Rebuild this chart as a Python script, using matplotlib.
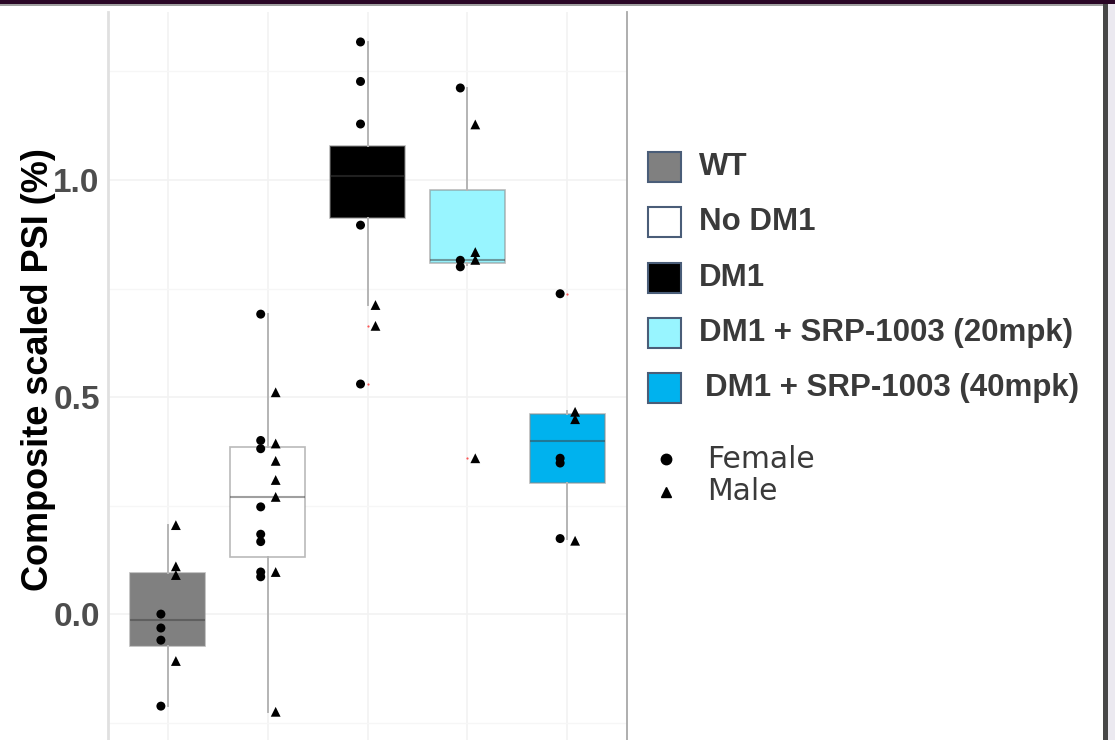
import numpy as np
import matplotlib.pyplot as plt
from matplotlib.patches import Rectangle
from matplotlib.lines import Line2D

# groups in plotting order
groups = ['WT', 'No DM1', 'DM1', 'DM1 + SRP-1003 (20mpk)', 'DM1 + SRP-1003 (40mpk)']
fills = ['#808080', '#ffffff', '#000000', '#98F5FF', '#00B2EE']

# box statistics
q1 = [-0.074, 0.132, 0.912, 0.808, 0.303]
med = [-0.014, 0.270, 1.010, 0.815, 0.399]
q3 = [0.095, 0.386, 1.078, 0.978, 0.462]
whis_lo = [-0.212, -0.225, 0.712, 0.804, 0.172]
whis_hi = [0.205, 0.691, 1.318, 1.212, 0.467]
outliers = [[], [], [0.664, 0.530], [0.359], [0.738]]

# individual animals
female = [
    [0.000, -0.032, -0.060, -0.212],
    [0.691, 0.400, 0.381, 0.247, 0.184, 0.167, 0.097, 0.086],
    [1.318, 1.227, 1.129, 0.896, 0.530],
    [1.212, 0.815, 0.800],
    [0.738, 0.359, 0.348, 0.174],
]
male = [
    [0.205, 0.110, 0.090, -0.108],
    [0.511, 0.393, 0.353, 0.309, 0.270, 0.097, -0.225],
    [0.712, 0.664],
    [1.128, 0.834, 0.816, 0.359],
    [0.466, 0.449, 0.169],
]

yticks = [0.0, 0.5, 1.0]
ylabel = 'Composite scaled PSI (%)'

W, H = 1115, 740
fig = plt.figure(figsize=(W / 100, H / 100), dpi=100)
fig.patch.set_facecolor('white')

# plot panel (pixel box: x 108..627, y 12..740)
ax = fig.add_axes([108 / W, 0, (627 - 108) / W, (740 - 12) / H])
ax.set_xlim(0.4, 5.6)
ax.set_ylim(-0.290, 1.387)

pos = np.arange(1, len(groups) + 1)
stats = []
for i in range(len(groups)):
    stats.append(dict(q1=q1[i], med=med[i], q3=q3[i], whislo=whis_lo[i],
                      whishi=whis_hi[i], fliers=outliers[i]))

bp = ax.bxp(stats, positions=pos, widths=0.75, patch_artist=True, showcaps=False,
            boxprops=dict(edgecolor=(0.55, 0.55, 0.55, 0.6), linewidth=1.2),
            medianprops=dict(color=(0.25, 0.25, 0.25, 0.5), linewidth=1.5),
            whiskerprops=dict(color='#b5b5b5', linewidth=1.4),
            flierprops=dict(marker='o', markersize=1.6, markerfacecolor='#ff3030',
                            markeredgecolor='none', alpha=0.8),
            zorder=2)
for patch, c in zip(bp['boxes'], fills):
    patch.set_facecolor(c)

for i, p in enumerate(pos):
    ax.scatter(np.full(len(female[i]), p - 0.07), female[i], marker='o', s=42,
               color='black', edgecolors='none', zorder=3)
    ax.scatter(np.full(len(male[i]), p + 0.08), male[i], marker='^', s=50,
               color='black', edgecolors='none', zorder=3)

# grid + axes styling
ax.set_yticks(yticks)
ax.set_yticklabels([f'{t:.1f}' for t in yticks], fontsize=24, fontweight='bold',
                   color='#4d4d4d', family='Liberation Sans')
ax.set_yticks([-0.25, 0.25, 0.75, 1.25], minor=True)
ax.set_xticks(pos)
ax.set_xticklabels([])
ax.tick_params(axis='both', which='both', length=0, pad=6)
ax.grid(True, which='major', color='#f2f2f2', linewidth=1.2, zorder=0)
ax.grid(True, which='minor', axis='y', color='#f6f6f6', linewidth=1.0, zorder=0)
ax.set_axisbelow(True)
for side in ['top', 'bottom']:
    ax.spines[side].set_visible(False)
ax.spines['left'].set_color('#e0e0e0')
ax.spines['left'].set_linewidth(2)
ax.spines['right'].set_color('#a8a8a8')
ax.spines['right'].set_linewidth(1.3)

fig.text(39 / W, 1 - 370 / H, ylabel, rotation=90, ha='center', va='center',
         fontsize=26, fontweight='bold', color='black', family='Liberation Sans')

# legend, drawn by hand on the right
leg_y = [167, 222, 278, 333, 388]
text_x = [699, 699, 699, 699, 705]
for name, c, y, tx in zip(groups, fills, leg_y, text_x):
    fig.add_artist(Rectangle((648 / W, 1 - (y + 15) / H), 33 / W, 30 / H,
                             transform=fig.transFigure, facecolor=c,
                             edgecolor='#4a5d78', linewidth=1.5))
    fig.text(tx / W, 1 - y / H, name, ha='left', va='center', fontsize=22.5,
             fontweight='bold', color='#3a3a3a', family='Liberation Sans')

for lab, mk, y, ms in [('Female', 'o', 459, 7.5), ('Male', '^', 492, 7.5)]:
    fig.add_artist(Line2D([666 / W], [1 - y / H], marker=mk, markersize=ms,
                          color='black', linestyle='none', transform=fig.transFigure))
    fig.text(707 / W, 1 - y / H, lab, ha='left', va='center', fontsize=21.5,
             color='#3a3a3a', family='DejaVu Sans')

# frame bits around the screenshot
fig.add_artist(Rectangle((0, 1 - 4 / H), 1, 4 / H, transform=fig.transFigure,
                         facecolor='#2a0626', edgecolor='none'))
fig.add_artist(Rectangle((0, 1 - 6 / H), 1, 2 / H, transform=fig.transFigure,
                         facecolor='#a0a0a0', edgecolor='none'))
fig.add_artist(Rectangle((1103 / W, 0), 5 / W, 1 - 4 / H, transform=fig.transFigure,
                         facecolor='#474747', edgecolor='none'))
fig.add_artist(Rectangle((1108 / W, 0), 7 / W, 1 - 4 / H, transform=fig.transFigure,
                         facecolor='#ebe9f0', edgecolor='none'))

fig.savefig('out.png', dpi=100)
